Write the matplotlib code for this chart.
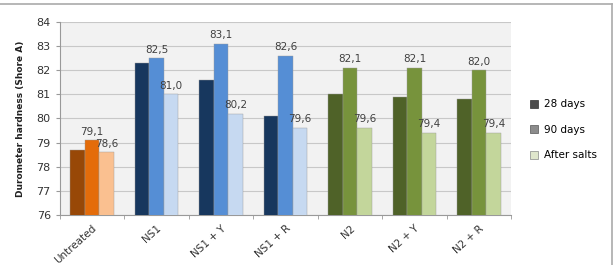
import numpy as np
import matplotlib.pyplot as plt
from matplotlib.patches import Patch
from matplotlib.lines import Line2D

# Data
groups = ["Untreated", "NS1", "NS1 + Y", "NS1 + R", "N2", "N2 + Y", "N2 + R"]
days28 = [78.7, 82.3, 81.6, 80.1, 81.0, 80.9, 80.8]
days90 = [79.1, 82.5, 83.1, 82.6, 82.1, 82.1, 82.0]
after_salts = [78.6, 81.0, 80.2, 79.6, 79.6, 79.4, 79.4]

# colours per group family (dark, mid, light)
orange = ["#984807", "#e46c0a", "#fac090"]
blue = ["#17375e", "#558ed5", "#c6d9f1"]
green = ["#4f6228", "#77933c", "#c3d69b"]
palette = [orange, blue, blue, blue, green, green, green]

fig = plt.figure(figsize=(6.16, 2.65), dpi=100)
ax = fig.add_axes([0.097, 0.189, 0.733, 0.728])

x = np.arange(len(groups))
w = 0.225
series = [days28, days90, after_salts]

for i, vals in enumerate(series):
    cols = [p[i] for p in palette]
    ax.bar(x + (i - 1) * w, vals, width=w, bottom=0, color=cols,
           edgecolor="#9a9a9a", linewidth=0.3, zorder=3)
    if i > 0:
        for xi, v in zip(x, vals):
            ax.text(xi + (i - 1) * w, v + 0.15, f"{v:.1f}".replace(".", ","),
                    ha="center", va="bottom", fontsize=7.5, color="#404040")

ax.set_ylim(76, 84)
ax.set_xlim(-0.5, len(groups) - 0.5)
ax.set_yticks(range(76, 85))
ax.set_facecolor("#f2f2f2")
ax.grid(axis="y", color="#c8c8c8", linewidth=0.8, zorder=0)
ax.set_axisbelow(True)

ax.set_xticks(x)
ax.set_xticklabels(groups, rotation=42, ha="right", rotation_mode="anchor",
                   fontsize=7.5, color="#333333")
ax.set_xticks(np.arange(len(groups) + 1) - 0.5, minor=True)
ax.tick_params(axis="x", which="major", length=0, pad=6)
ax.tick_params(axis="x", which="minor", length=3, color="#999999")
ax.tick_params(axis="y", labelsize=8, colors="#333333", length=3,
               color="#999999")
for s in ["top", "right"]:
    ax.spines[s].set_visible(False)
ax.spines["left"].set_color("#999999")
ax.spines["bottom"].set_color("#999999")

ax.set_ylabel("Durometer hardness (Shore A)", fontsize=6.5,
              fontweight="bold", color="#222222", labelpad=8)

handles = [Patch(facecolor="#4d4d4d", edgecolor="#333333", linewidth=0.5),
           Patch(facecolor="#8c8c8c", edgecolor="#555555", linewidth=0.5),
           Patch(facecolor="#dfe6cc", edgecolor="#888888", linewidth=0.5)]
fig.legend(handles, ["28 days", "90 days", "After salts"],
           loc="center left", bbox_to_anchor=(0.845, 0.51), frameon=False,
           fontsize=7.5, handlelength=0.8, handleheight=0.8,
           labelspacing=1.5, handletextpad=0.6)

# outer frame of the original chart
fig.add_artist(Line2D([0, 0.993], [0.985, 0.985], color="#aaaaaa", lw=1.2,
                      transform=fig.transFigure))
fig.add_artist(Line2D([0.993, 0.993], [0, 0.985], color="#aaaaaa", lw=1.2,
                      transform=fig.transFigure))

fig.savefig("out.png", dpi=100)
